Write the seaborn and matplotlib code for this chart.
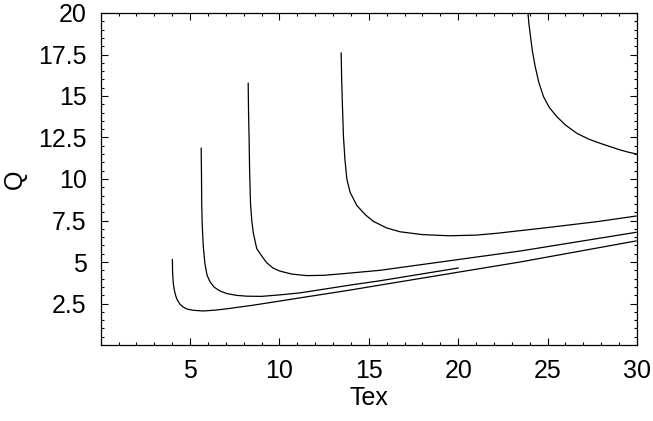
import matplotlib
matplotlib.use("Agg")
import matplotlib.pyplot as plt
import seaborn as sns
import pandas as pd
from matplotlib.ticker import MultipleLocator, FixedLocator

# Q versus excitation temperature, one branch per curve
tex_1 = [4.01, 4.02, 4.06, 4.12, 4.2, 4.3, 4.44, 4.62, 4.85, 5.18, 5.74, 6.4, 7.05, 8.54,
         10.03, 11.15, 12.83, 13.95, 15.63, 23.46, 29.96]
q_1 = [5.16, 4.4, 3.72, 3.3, 2.95, 2.68, 2.45, 2.28, 2.16, 2.09, 2.05, 2.1, 2.18, 2.4,
       2.65, 2.84, 3.12, 3.31, 3.61, 5.0, 6.27]

tex_2 = [5.62, 5.64, 5.65, 5.68, 5.74, 5.83, 5.95, 6.12, 6.35, 6.68, 7.05, 7.6, 8.17, 9.0,
         10.03, 11.15, 12.83, 13.95, 15.63, 20.01]
q_2 = [11.87, 10.0, 8.5, 7.2, 5.9, 4.9, 4.2, 3.8, 3.48, 3.25, 3.1, 2.99, 2.94, 2.93,
       3.02, 3.14, 3.42, 3.61, 3.87, 4.64]

tex_3 = [8.25, 8.27, 8.3, 8.33, 8.38, 8.45, 8.54, 8.73, 9.05, 9.29, 9.65, 10.03, 10.7,
         11.53, 12.5, 13.39, 15.63, 23.46, 29.96]
q_3 = [15.78, 14.0, 12.55, 10.5, 8.54, 7.5, 6.73, 5.8, 5.3, 4.95, 4.63, 4.45, 4.27,
       4.18, 4.2, 4.28, 4.5, 5.66, 6.79]

tex_4 = [13.45, 13.48, 13.52, 13.58, 13.66, 13.77, 13.95, 14.33, 14.8, 15.25, 16.0, 16.75,
         18.0, 19.5, 21.0, 22.16, 24.96, 27.76, 29.96]
q_4 = [17.6, 16.0, 14.5, 12.55, 11.2, 10.0, 9.2, 8.4, 7.85, 7.45, 7.05, 6.82,
       6.65, 6.58, 6.62, 6.73, 7.07, 7.43, 7.77]

tex_5 = [23.9, 23.95, 24.02, 24.15, 24.3, 24.5, 24.77, 25.1, 25.52, 26.0, 26.64, 27.3,
         27.94, 28.5, 29.06, 29.5, 30.0]
q_5 = [20.0, 19.4, 18.78, 17.7, 16.8, 15.85, 14.96, 14.3, 13.75, 13.25, 12.75, 12.4,
       12.15, 11.95, 11.75, 11.62, 11.5]

x_ticks = [5, 10, 15, 20, 25, 30]
y_ticks = [2.5, 5, 7.5, 10, 12.5, 15, 17.5, 20]
y_tick_labels = ["2.5", "5", "7.5", "10", "12.5", "15", "17.5", "20"]

frames = []
for k, (tx, qv) in enumerate([(tex_1, q_1), (tex_2, q_2), (tex_3, q_3),
                              (tex_4, q_4), (tex_5, q_5)]):
    frames.append(pd.DataFrame({"Tex": tx, "Q": qv, "branch": k}))
df = pd.concat(frames, ignore_index=True)

sns.set_style("white")
plt.rcParams["font.family"] = ["Liberation Sans", "DejaVu Sans"]
plt.rcParams.update({"text.color": "black", "axes.labelcolor": "black",
                     "xtick.color": "black", "ytick.color": "black"})

fig = plt.figure(figsize=(6.53, 4.21), dpi=100)
ax = fig.add_axes([100.7 / 653, 1 - 345 / 421, (637 - 100.7) / 653, (345 - 13) / 421])

sns.lineplot(data=df, x="Tex", y="Q", units="branch", estimator=None, sort=False,
             color="black", linewidth=0.9, ax=ax, legend=False)

ax.set_xlim(0, 30)
ax.set_ylim(0, 20)
ax.xaxis.set_major_locator(FixedLocator(x_ticks))
ax.xaxis.set_minor_locator(MultipleLocator(1))
ax.yaxis.set_major_locator(FixedLocator(y_ticks))
ax.yaxis.set_minor_locator(MultipleLocator(0.5))
ax.set_xticklabels([str(t) for t in x_ticks])
ax.set_yticklabels(y_tick_labels)

for s in ax.spines.values():
    s.set_visible(True)
    s.set_color("black")
    s.set_linewidth(0.9)

ax.tick_params(which="both", direction="in", top=True, right=True,
               bottom=True, left=True, color="black", width=0.8)
ax.tick_params(which="major", length=5, labelsize=18, pad=10)
ax.tick_params(which="minor", length=2.5)

ax.set_xlabel("Tex", fontsize=18, labelpad=2)
ax.set_ylabel("Q", fontsize=18)
ax.yaxis.set_label_coords(-0.138, 0.5)

fig.savefig("out.png", dpi=100)
